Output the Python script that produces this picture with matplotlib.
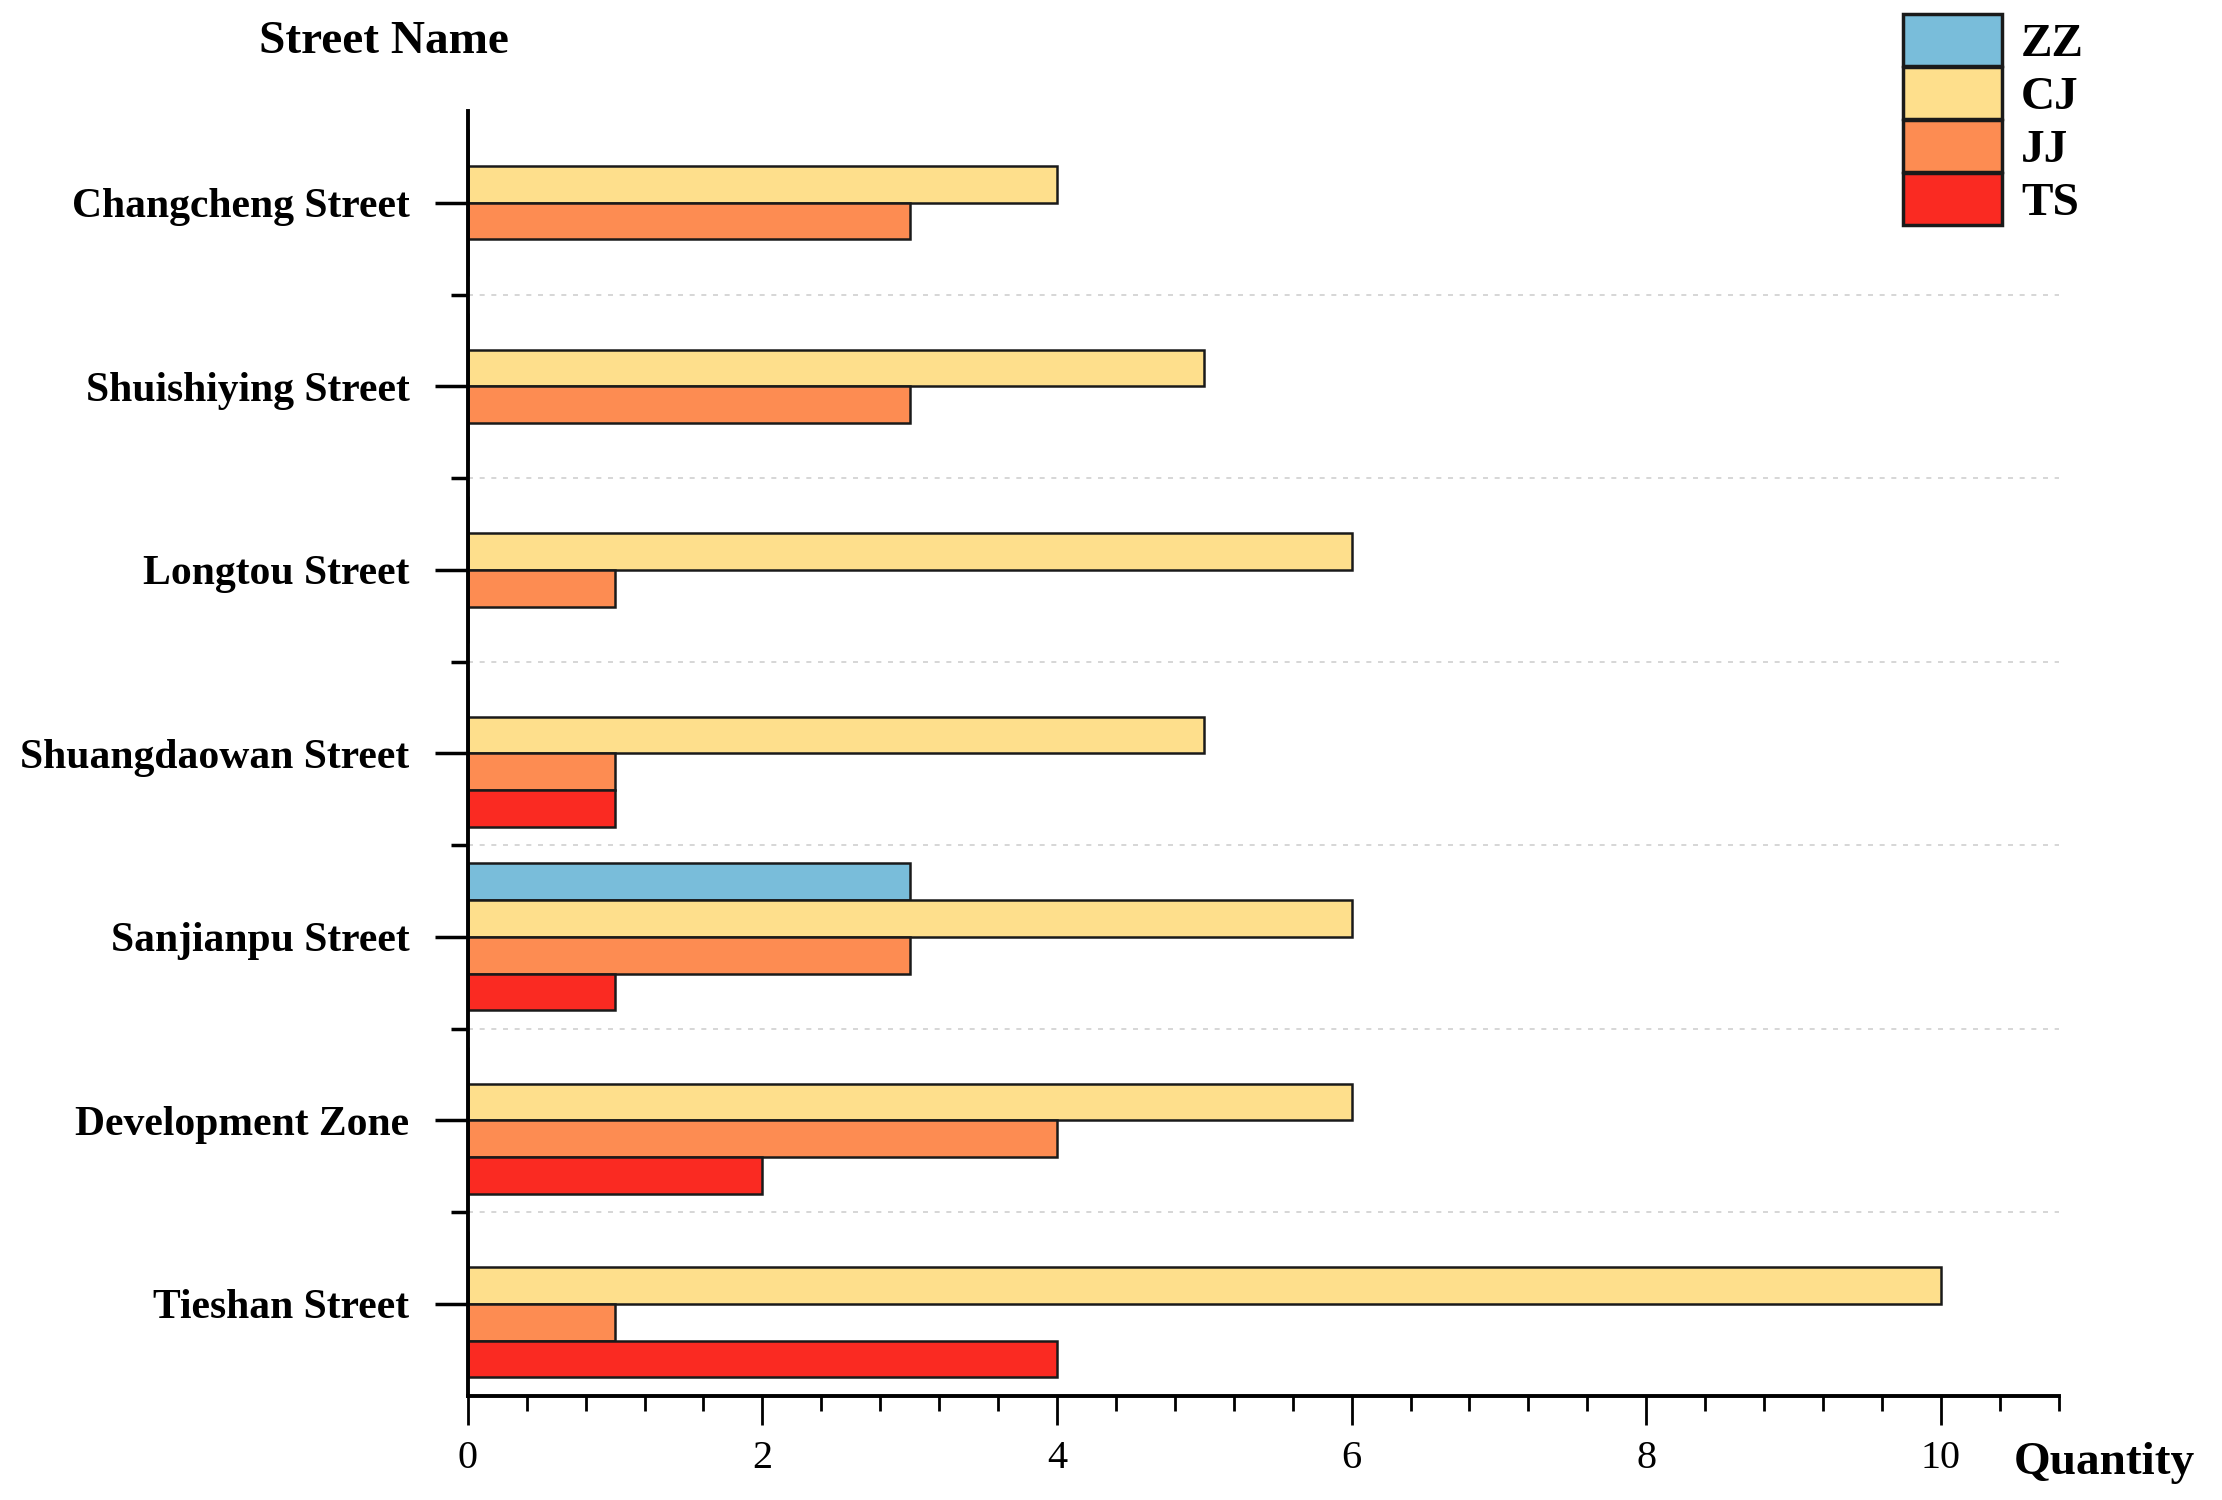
import matplotlib
matplotlib.use("Agg")
import matplotlib.pyplot as plt
import numpy as np

streets = ["Changcheng Street", "Shuishiying Street", "Longtou Street",
           "Shuangdaowan Street", "Sanjianpu Street", "Development Zone",
           "Tieshan Street"]
series = ["ZZ", "CJ", "JJ", "TS"]
zz = [0, 0, 0, 0, 3, 0, 0]
cj = [4, 5, 6, 5, 6, 6, 10]
jj = [3, 3, 1, 1, 3, 4, 1]
ts = [0, 0, 0, 1, 1, 2, 4]
colors = ["#79BDDA", "#FEDF8C", "#FD8C52", "#FA2A22"]
x_ticks = [0, 2, 4, 6, 8, 10]

plt.rcParams['font.family'] = ['Liberation Serif', 'DejaVu Serif']

fig = plt.figure(figsize=(22.22, 15), dpi=100)
ax = fig.add_axes([0.2105, 0.0695, 0.716, 0.8565])

n = len(streets)
pos = np.arange(n)[::-1]  # first street at top
h = 0.2
offsets = [1.5 * h, 0.5 * h, -0.5 * h, -1.5 * h]
for vals, off, col, lab in zip([zz, cj, jj, ts], offsets, colors, series):
    ax.barh(pos + off, vals, height=h, color=col, edgecolor="#1a1a1a",
            linewidth=1.8, label=lab, zorder=3)

ax.set_xlim(0, 10.8)
ax.set_ylim(-0.5, n - 0.5)
ax.set_xticks(x_ticks)
ax.set_xticks(np.arange(0, 10.81, 0.4), minor=True)
ax.set_yticks(pos)
ax.set_yticklabels(streets, fontsize=30, fontweight='bold')
ax.set_yticks(np.arange(0.5, n - 1, 1.0), minor=True)
ax.tick_params(axis='x', which='major', direction='out', length=21, width=2,
               labelsize=29, pad=11)
ax.tick_params(axis='x', which='minor', direction='out', length=11, width=2)
ax.tick_params(axis='y', which='major', direction='out', length=24, width=2.5,
               pad=18)
ax.tick_params(axis='y', which='minor', direction='out', length=12, width=2.5)

for y in np.arange(0.5, n - 1, 1.0):
    ax.axhline(y, color="#d0d0d0", linestyle=(0, (3, 4)), linewidth=1.2, zorder=1)

for s in ['top', 'right']:
    ax.spines[s].set_visible(False)
for s in ['left', 'bottom']:
    ax.spines[s].set_linewidth(2.8)
    ax.spines[s].set_zorder(5)

fig.text(0.173, 0.972, "Street Name", fontsize=34, fontweight='bold',
         ha='center', va='center')
fig.text(0.9065, 0.025, "Quantity", fontsize=34, fontweight='bold',
         ha='left', va='center')

leg = fig.legend(loc='upper left', bbox_to_anchor=(0.848, 1.003), frameon=False,
                 prop={'size': 34, 'weight': 'bold'}, handlelength=2.1,
                 handleheight=1.3, labelspacing=0.03, handletextpad=0.4,
                 borderaxespad=0.2, borderpad=0.2)
for p in leg.get_patches():
    p.set_linewidth(2.5)

fig.savefig("out.png", dpi=100)
